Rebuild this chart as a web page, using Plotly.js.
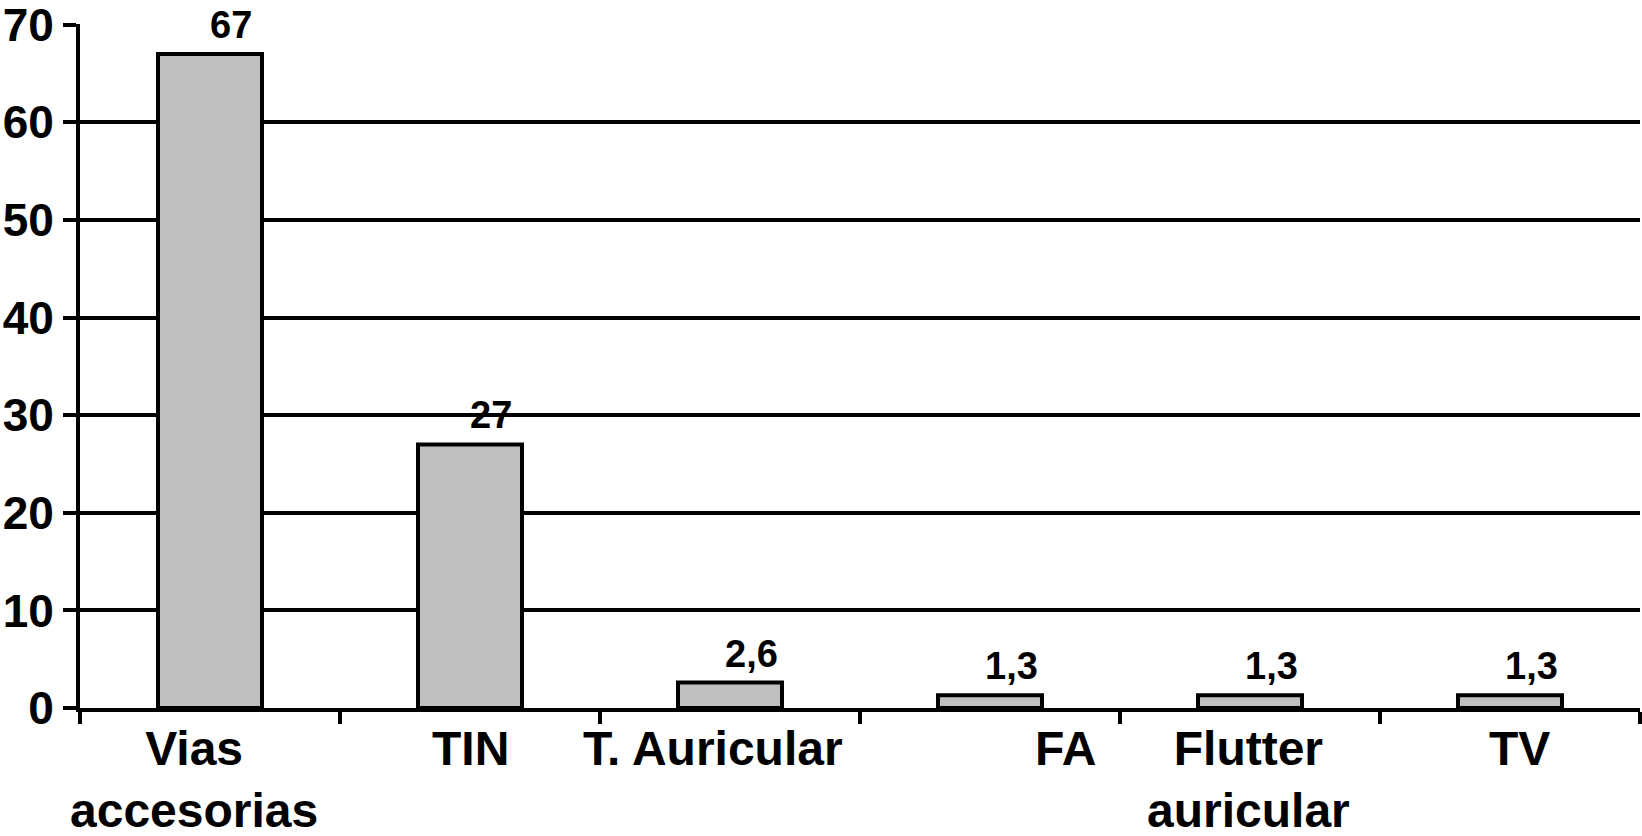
<!DOCTYPE html>
<html>
<head>
<meta charset="utf-8">
<script src="https://cdn.plot.ly/plotly-3.0.1.min.js"></script>
<style>html,body{margin:0;padding:0;background:#fff;}#chart{width:1642px;height:836px;}</style>
</head>
<body>
<div id="chart"></div>
<script>
const categories = ["Vias<br>accesorias", "TIN", "T. Auricular", "FA", "Flutter<br>auricular", "TV"];
const values = [67, 27, 2.6, 1.3, 1.3, 1.3];
const valueLabels = ["67", "27", "2,6", "1,3", "1,3", "1,3"];
const yTicks = [0, 10, 20, 30, 40, 50, 60, 70];

const FONT = "Liberation Sans, Arial, Helvetica, sans-serif";
// horizontal offsets of the category labels, as laid out in the original
const labelShift = [-16, 0, -17, 75, -2, 9];

const trace = {
  type: "bar",
  x: categories,
  y: values,
  marker: { color: "#c0c0c0", line: { color: "#000", width: 4 } },
  hoverinfo: "none"
};

const valueAnn = categories.map((c, i) => ({
  x: c, y: values[i], xref: "x", yref: "y",
  text: valueLabels[i], showarrow: false,
  yanchor: "bottom", xanchor: "center",
  xshift: 21, yshift: 6,
  font: { family: FONT, size: 38, color: "#000", weight: 700 }
}));

const catAnn = categories.map((c, i) => ({
  x: c, y: 0, xref: "x", yref: "y",
  text: c, showarrow: false,
  yanchor: "top", xanchor: "center", align: "center",
  xshift: labelShift[i], yshift: -12,
  font: { family: FONT, size: 48, color: "#000", weight: 700 }
}));

const layout = {
  width: 1642, height: 836,
  margin: { l: 80, r: 2, t: 24, b: 128, autoexpand: false },
  paper_bgcolor: "#fff", plot_bgcolor: "#fff",
  showlegend: false,
  bargap: 0.6,
  xaxis: {
    type: "category",
    range: [-0.5, categories.length - 0.5], autorange: false,
    showline: true, linecolor: "#000", linewidth: 4,
    ticks: "outside", tickson: "boundaries", ticklen: 12, tickwidth: 4, tickcolor: "#000",
    showgrid: false, zeroline: false,
    showticklabels: false, automargin: false
  },
  yaxis: {
    range: [0, 70.08], autorange: false, tickvals: yTicks, ticktext: yTicks.map(String),
    showline: true, linecolor: "#000", linewidth: 4,
    ticks: "outside", ticklen: 13, tickwidth: 4, tickcolor: "#000",
    showgrid: true, gridcolor: "#000", gridwidth: 4,
    zeroline: false, automargin: false,
    ticklabeloverflow: "allow",
    tickfont: { family: FONT, size: 46, color: "#000", weight: 700 },
    ticklabelstandoff: 0
  },
  annotations: valueAnn.concat(catAnn)
};

Plotly.newPlot("chart", [trace], layout, { displayModeBar: false, staticPlot: true });
</script>
</body>
</html>
